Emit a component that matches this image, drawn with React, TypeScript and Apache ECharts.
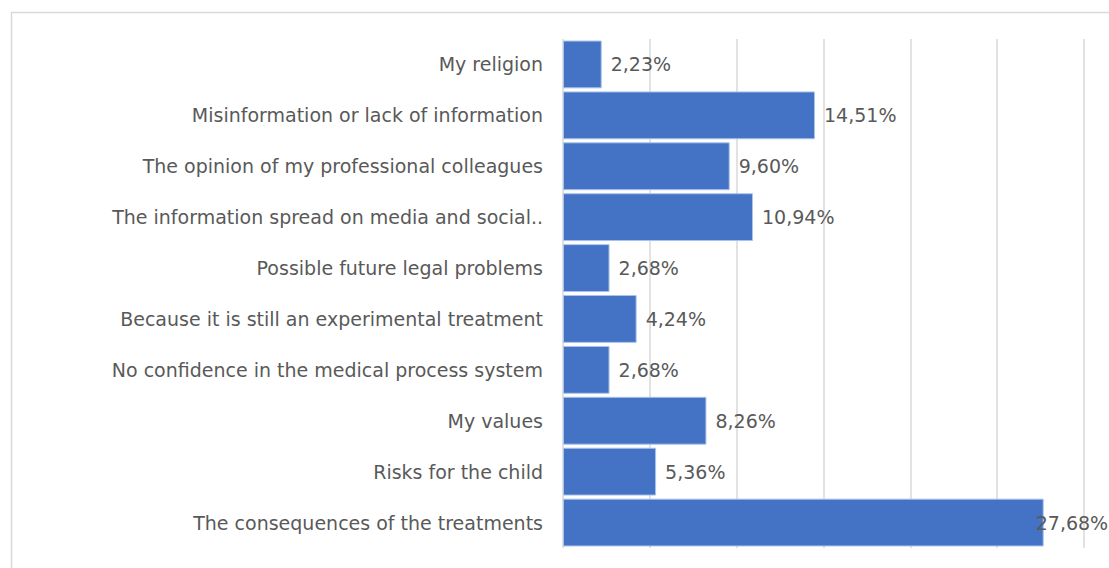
import React, { useEffect, useRef } from "react";
import * as echarts from "echarts";

const categories = [
  "My religion",
  "Misinformation or lack of information",
  "The opinion of my professional colleagues",
  "The information spread on media and social..",
  "Possible future legal problems",
  "Because it is still an experimental treatment",
  "No confidence in the medical process system",
  "My values",
  "Risks for the child",
  "The consequences of the treatments",
];
const values = [2.23, 14.51, 9.6, 10.94, 2.68, 4.24, 2.68, 8.26, 5.36, 27.68];

export default function App() {
  const ref = useRef<HTMLDivElement>(null);
  useEffect(() => {
    if (!ref.current) return;
    const chart = echarts.init(ref.current, undefined, { renderer: "svg" });
    const lastIndex = values.length - 1;
    const maxVal = Math.max(...values);
    chart.setOption({
      animation: false,
      backgroundColor: "#ffffff",
      graphic: [
        {
          type: "rect",
          shape: { x: 11.5, y: 12.5, width: 1200, height: 700 },
          style: { fill: "none", stroke: "#d9d9d9", lineWidth: 1.5 },
          silent: true,
        },
      ],
      grid: { left: 563, right: 25, top: 39, bottom: 20, containLabel: false },
      xAxis: {
        type: "value",
        min: 0,
        max: 30,
        interval: 5,
        axisLabel: { show: false },
        axisLine: { show: false },
        axisTick: { show: false },
        splitLine: { show: true, lineStyle: { color: "#d9d9d9", width: 1.5 } },
      },
      yAxis: {
        type: "category",
        data: categories,
        inverse: true,
        axisLine: { show: false },
        axisTick: { show: false },
        axisLabel: {
          margin: 20,
          color: "#595959",
          fontSize: 19,
          fontFamily: "DejaVu Sans",
        },
      },
      series: [
        {
          type: "bar",
          data: values.map((v, i) =>
            v === maxVal && i === lastIndex
              ? { value: v, label: { distance: 0, offset: [-8, 0] } }
              : v
          ),
          barCategoryGap: "6%",
          itemStyle: { color: "#4472C4", borderColor: "#a9c4eb", borderWidth: 1 },
          label: {
            show: true,
            position: "right",
            distance: 9,
            color: "#595959",
            fontSize: 19,
            fontFamily: "DejaVu Sans",
            formatter: (p: any) => Number(p.value).toFixed(2).replace(".", ",") + "%",
          },
        },
      ],
    });
    return () => chart.dispose();
  }, []);
  return (
    <div
      ref={ref}
      style={{ position: "absolute", left: 0, top: 0, width: 1109, height: 568 }}
    />
  );
}
